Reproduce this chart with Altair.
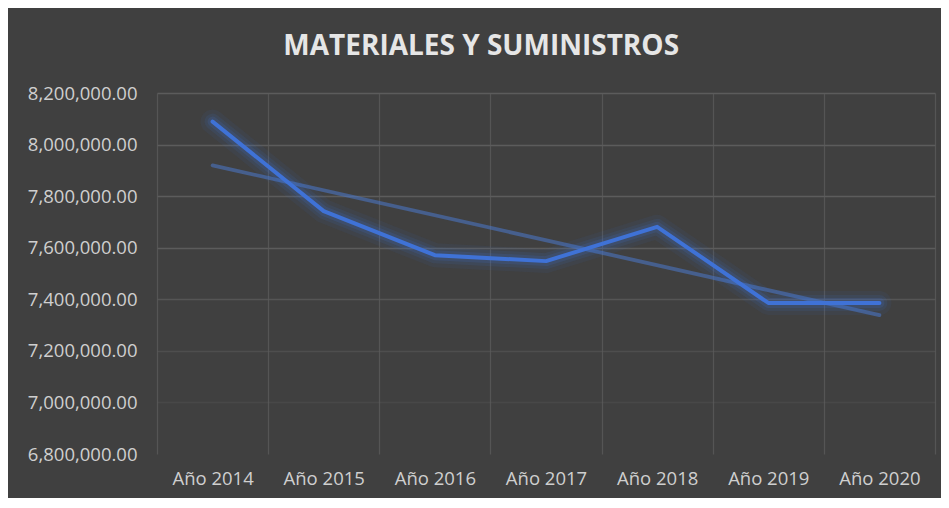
import json
import altair as alt
import pandas as pd

# ---- data ----
years = ["Año 2014", "Año 2015", "Año 2016", "Año 2017", "Año 2018", "Año 2019", "Año 2020"]
values = [8089000, 7742000, 7571000, 7548000, 7681000, 7386000, 7386000]
y_ticks = [6800000, 7000000, 7200000, 7400000, 7600000, 7800000, 8000000, 8200000]
title_text = "MATERIALES Y SUMINISTROS"

df = pd.DataFrame({"year": years, "value": values, "i": list(range(len(years)))})

BG = "#404040"
LINE = "#3f72d6"
TXT = "#cfcfcf"
FONT = "Open Sans"

x_enc = alt.X(
    "year:N",
    sort=years,
    scale=alt.Scale(paddingInner=0, paddingOuter=0),
    axis=alt.Axis(
        title=None,
        labelAngle=0,
        tickBand="extent",
        grid=True,
        gridColor="#595959",
        gridWidth=1.3,
        gridOpacity=0.85,
        domain=False,
        ticks=False,
        labelFont=FONT,
        labelFontSize=18.5,
        labelColor=TXT,
        labelPadding=15,
    ),
)

y_enc = alt.Y(
    "value:Q",
    scale=alt.Scale(domain=[y_ticks[0], y_ticks[-1]], nice=False, zero=False),
    axis=alt.Axis(
        title=None,
        values=y_ticks,
        format=",.2f",
        grid=True,
        gridColor="#5c5c5c",
        gridWidth=1.3,
        gridOpacity={
            "condition": [
                {"test": "datum.value <= 6800000", "value": 0},
                {"test": "datum.value <= 7000000", "value": 0.3},
                {"test": "datum.value <= 7200000", "value": 0.5},
                {"test": "datum.value <= 7400000", "value": 0.75},
            ],
            "value": 1,
        },
        domain=False,
        ticks=False,
        labelFont=FONT,
        labelFontSize=18.5,
        labelColor=TXT,
        labelPadding=20,
    ),
)

base = alt.Chart(df)

glow_layers = [
    base.mark_line(color=LINE, strokeWidth=w, opacity=o, strokeCap="round", strokeJoin="round").encode(
        x=x_enc, y=y_enc
    )
    for w, o in [(24, 0.07), (16, 0.1), (10, 0.16)]
]

main_line = base.mark_line(color=LINE, strokeWidth=4, strokeCap="round", strokeJoin="round").encode(
    x=x_enc, y=y_enc
)

year_expr = json.dumps(years, ensure_ascii=False) + "[datum.i]"
trend = (
    base.transform_regression("i", "value", method="linear")
    .transform_calculate(year=year_expr)
    .mark_line(color="#4a78cc", strokeWidth=3.8, opacity=0.55, strokeCap="round")
    .encode(x=x_enc, y=y_enc)
)

chart = (
    alt.layer(trend, *glow_layers, main_line)
    .properties(
        width=778,
        height=361,
        background=BG,
        padding={"left": 149, "top": 85, "right": 6, "bottom": 44},
        autosize=alt.AutoSizeParams(type="none"),
        title=alt.TitleParams(
            text=title_text,
            font=FONT,
            fontSize=28,
            fontWeight="bold",
            color="#e6e6e6",
            anchor="middle",
            frame="bounds",
            offset=23,
        ),
    )
    .configure_view(stroke=None)
)

chart.save("out.html", embed_options={"renderer": "svg", "actions": False})
